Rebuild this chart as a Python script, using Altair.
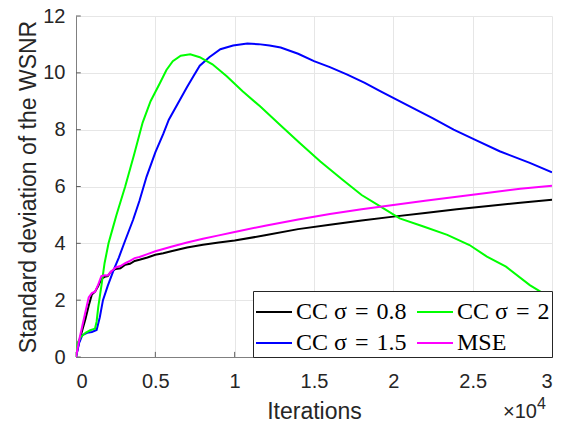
import altair as alt
import pandas as pd

# ---- data (x in units of 10^4 iterations) ----
black_x = [0, 0.02, 0.04, 0.06, 0.08, 0.10, 0.12, 0.14, 0.16, 0.18, 0.20, 0.22, 0.25, 0.28,
           0.31, 0.34, 0.37, 0.40, 0.45, 0.50, 0.55, 0.60, 0.70, 0.80, 0.90, 1.0, 1.2, 1.4,
           1.6, 1.8, 2.0, 2.2, 2.4, 2.6, 2.8, 3.0]
black_y = [0, 0.55, 0.95, 1.35, 1.8, 2.2, 2.3, 2.5, 2.75, 2.82, 2.85, 3.0, 3.1, 3.12,
           3.25, 3.28, 3.38, 3.42, 3.5, 3.6, 3.65, 3.72, 3.85, 3.95, 4.03, 4.1, 4.29, 4.5,
           4.65, 4.8, 4.94, 5.07, 5.2, 5.31, 5.43, 5.53]

blue_x = [0, 0.02, 0.04, 0.07, 0.10, 0.13, 0.15, 0.17, 0.20, 0.24, 0.27, 0.31, 0.36, 0.40,
          0.445, 0.50, 0.55, 0.585, 0.65, 0.70, 0.74, 0.78, 0.84, 0.91, 0.99, 1.08, 1.15,
          1.22, 1.29, 1.40, 1.50, 1.60, 1.71, 1.82, 1.92, 2.1, 2.25, 2.38, 2.52, 2.67, 2.86, 3.0]
blue_y = [0, 0.5, 0.77, 0.85, 0.88, 0.95, 1.4, 2.0, 2.5, 3.1, 3.5, 4.1, 4.83, 5.5,
          6.35, 7.2, 7.85, 8.35, 9.0, 9.5, 9.88, 10.25, 10.55, 10.83, 10.96, 11.03, 11.01,
          10.96, 10.89, 10.67, 10.41, 10.2, 9.94, 9.65, 9.35, 8.83, 8.4, 8.0, 7.63, 7.24, 6.83, 6.5]

green_x = [0, 0.01, 0.03, 0.06, 0.09, 0.12, 0.13, 0.14, 0.16, 0.18, 0.205, 0.23, 0.255, 0.31,
           0.365, 0.42, 0.47, 0.53, 0.57, 0.61, 0.66, 0.72, 0.78, 0.86, 0.95, 1.05, 1.16,
           1.28, 1.41, 1.54, 1.68, 1.80, 1.92, 2.04, 2.19, 2.34, 2.48, 2.59, 2.71, 2.86, 3.0]
green_y = [0, 0.5, 0.7, 0.85, 0.94, 1.0, 1.25, 1.75, 2.5, 3.3, 4.0, 4.5, 5.0, 6.0,
           7.1, 8.25, 9.0, 9.65, 10.1, 10.41, 10.6, 10.65, 10.55, 10.3, 9.88, 9.35, 8.82,
           8.2, 7.53, 6.88, 6.24, 5.7, 5.29, 4.88, 4.59, 4.3, 3.94, 3.53, 3.18, 2.53, 2.05]

mse_x = [0, 0.02, 0.04, 0.06, 0.08, 0.10, 0.12, 0.14, 0.16, 0.18, 0.20, 0.22, 0.25, 0.28,
         0.31, 0.34, 0.37, 0.40, 0.45, 0.50, 0.55, 0.60, 0.70, 0.80, 0.90, 1.0, 1.2, 1.4,
         1.6, 1.8, 2.0, 2.2, 2.4, 2.6, 2.8, 3.0]
mse_y = [0, 0.6, 1.1, 1.6, 2.1, 2.25, 2.3, 2.55, 2.85, 2.88, 2.87, 3.0, 3.15, 3.2,
         3.3, 3.38, 3.48, 3.52, 3.62, 3.72, 3.8, 3.88, 4.03, 4.16, 4.28, 4.4, 4.63, 4.84,
         5.03, 5.2, 5.35, 5.5, 5.64, 5.78, 5.92, 6.03]

SP = "\u2004"
series_names = ["CC σ" + SP + "=" + SP + "0.8", "CC σ" + SP + "=" + SP + "1.5",
                "CC σ" + SP + "=" + SP + "2", "MSE"]   # plot & legend order
series_colors = ["#000000", "#0000ff", "#00ff00", "#ff00ff"]

x_ticks = [0, 0.5, 1, 1.5, 2, 2.5, 3]
y_ticks = [0, 2, 4, 6, 8, 10, 12]

rows = []
for name, xs, ys in zip(series_names, [black_x, blue_x, green_x, mse_x],
                        [black_y, blue_y, green_y, mse_y]):
    for xv, yv in zip(xs, ys):
        rows.append({"series": name, "x": xv, "y": yv})
df = pd.DataFrame(rows)

FONT = "Liberation Sans"
TXT = "#262626"

xscale = alt.Scale(domain=[0, 3], nice=False, zero=False)
yscale = alt.Scale(domain=[0, 12], nice=False, zero=False)

lines = alt.Chart(df).mark_line(strokeWidth=2, clip=True).encode(
    x=alt.X("x:Q", scale=xscale,
            axis=alt.Axis(values=x_ticks, format="~g", title="Iterations",
                          labelPadding=14, titleY=61, titleBaseline="alphabetic",
                          titleX=238, titleAlign="center")),
    y=alt.Y("y:Q", scale=yscale,
            axis=alt.Axis(values=y_ticks, format="~g", title="Standard deviation of the WSNR",
                          labelPadding=11, titleX=-41, titleY=170.5, titleAngle=270,
                          titleBaseline="alphabetic", titleAlign="center")),
    color=alt.Color("series:N",
                    scale=alt.Scale(domain=series_names, range=series_colors),
                    legend=alt.Legend(title=None, orient="bottom-right", offset=0,
                                      columns=2, symbolType="stroke", symbolSize=1296,
                                      symbolStrokeWidth=2, labelFont="Liberation Serif",
                                      labelFontSize=24, labelColor="#000000",
                                      fillColor="#ffffff", strokeColor="#262626",
                                      padding=2, rowPadding=-3, columnPadding=6,
                                      labelOffset=3, labelLimit=300)),
    detail="series:N",
)

xt = pd.DataFrame({"v": x_ticks})
yt = pd.DataFrame({"v": y_ticks})

xtick_marks = alt.Chart(xt).mark_rule(color="#606060", strokeWidth=1).encode(
    x=alt.X("v:Q", scale=xscale), y=alt.datum(0), y2=alt.datum(0.18))
ytick_marks = alt.Chart(yt).mark_rule(color="#606060", strokeWidth=1).encode(
    y=alt.Y("v:Q", scale=yscale), x=alt.datum(0), x2=alt.datum(0.03))

exp_base = alt.Chart(pd.DataFrame({"t": ["×10"]})).mark_text(
    align="right", baseline="alphabetic", dx=-15, dy=61, fontSize=20, font=FONT, color=TXT
).encode(x=alt.datum(3), y=alt.datum(0), text="t:N")
exp_pow = alt.Chart(pd.DataFrame({"t": ["4"]})).mark_text(
    align="left", baseline="alphabetic", dx=-15, dy=52, fontSize=16, font=FONT, color=TXT
).encode(x=alt.datum(3), y=alt.datum(0), text="t:N")

chart = alt.layer(xtick_marks, ytick_marks, lines, exp_base, exp_pow).properties(
    width=476, height=341,
    autosize=alt.AutoSizeParams(type="none"),
    padding={"left": 68, "top": 8, "right": 6, "bottom": 62},
).configure_view(strokeWidth=0).configure_axis(
    grid=True, gridColor="#e6e6e6", gridWidth=1,
    domainColor="#808080", domainWidth=1, ticks=False,
    labelFont=FONT, labelFontSize=20, labelColor=TXT,
    titleFont=FONT, titleFontSize=23, titleFontWeight="normal", titleColor=TXT,
)

chart.save("out.html", embed_options={"renderer": "svg", "actions": False})
